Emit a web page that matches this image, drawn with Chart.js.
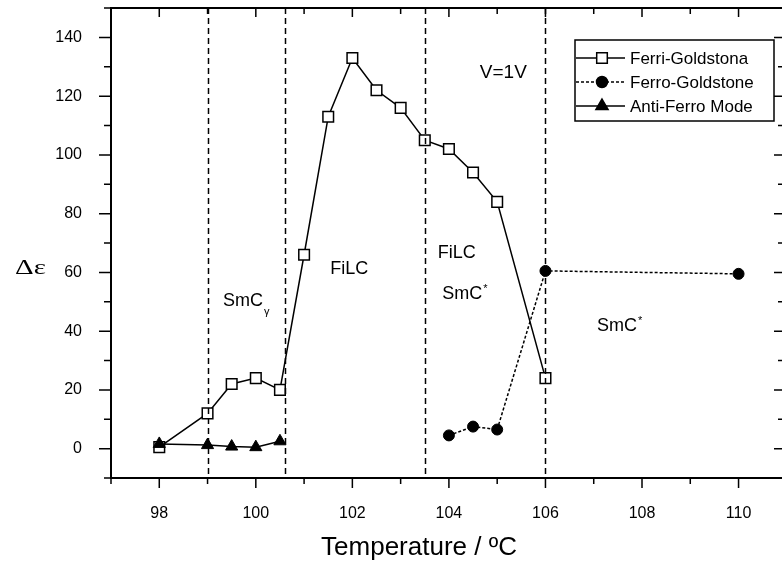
<!DOCTYPE html>
<html>
<head>
<meta charset="utf-8">
<script src="https://cdn.jsdelivr.net/npm/chart.js@4.4.0/dist/chart.umd.min.js"></script>
<style>
html,body{margin:0;padding:0;background:#fff;}
#wrap{width:782px;height:563px;}
</style>
</head>
<body>
<div id="wrap"><canvas id="c" width="782" height="563"></canvas></div>
<script>
// ---- data ----
const ferriT  = [98, 99, 99.5, 100, 100.5, 101, 101.5, 102, 102.5, 103, 103.5, 104, 104.5, 105, 106];
const ferriDe = [0.5, 12, 22, 24, 20, 66, 113, 133, 122, 116, 105, 102, 94, 84, 24];
const ferroT  = [104, 104.5, 105, 106, 110];
const ferroDe = [4.5, 7.5, 6.5, 60.5, 59.5];
const antiT   = [98, 99, 99.5, 100, 100.5];
const antiDe  = [1.6, 1.2, 0.7, 0.5, 2.5];
const seriesLabels = ['Ferri-Goldstona', 'Ferro-Goldstone', 'Anti-Ferro Mode'];
const phaseBoundaries = [99, 100.6, 103.5, 106];
const xTickLabels = [98, 100, 102, 104, 106, 108, 110];
const yTickLabels = [0, 20, 40, 60, 80, 100, 120, 140];
const annotations = [
  {x: 99.32, y: 48.6, text: 'SmC', sub: 'γ'},
  {x: 101.54, y: 59.5, text: 'FiLC'},
  {x: 103.77, y: 65, text: 'FiLC'},
  {x: 103.86, y: 51, text: 'SmC', sup: '*'},
  {x: 107.07, y: 40.1, text: 'SmC', sup: '*'},
  {x: 104.64, y: 126.2, text: 'V=1V', size: 19}
];

const pts = (xs, ys) => xs.map((x, i) => ({x: x, y: ys[i]}));
const SANS = '"Liberation Sans", Arial, sans-serif';

const framePlugin = {
  id: 'frame',
  afterDatasetsDraw(chart) {
    const ctx = chart.ctx;
    const xs = chart.scales.x, ys = chart.scales.y;
    const a = chart.chartArea;
    ctx.save();
    // dashed phase boundaries
    ctx.strokeStyle = '#000';
    ctx.lineWidth = 1.5;
    ctx.setLineDash([6, 4]);
    phaseBoundaries.forEach(v => {
      const px = Math.round(xs.getPixelForValue(v)) + 0.5;
      ctx.beginPath(); ctx.moveTo(px, a.top); ctx.lineTo(px, a.bottom); ctx.stroke();
    });
    ctx.setLineDash([]);
    // frame (right edge lies outside the picture)
    ctx.lineWidth = 2;
    ctx.beginPath();
    ctx.moveTo(a.right + 2, a.top); ctx.lineTo(a.left, a.top); ctx.lineTo(a.left, a.bottom); ctx.lineTo(a.right + 2, a.bottom);
    ctx.stroke();
    // ticks
    ctx.lineWidth = 1.5;
    ctx.beginPath();
    for (let v = Math.ceil(xs.min); v <= xs.max; v += 1) {
      const px = xs.getPixelForValue(v);
      const major = v % 2 === 0;
      ctx.moveTo(px, a.bottom); ctx.lineTo(px, a.bottom + (major ? 10 : 6));
      ctx.moveTo(px, a.top); ctx.lineTo(px, a.top + (major ? 9 : 6));
    }
    for (let v = ys.min; v <= ys.max; v += 10) {
      const py = ys.getPixelForValue(v);
      const major = v % 20 === 0;
      ctx.moveTo(a.left, py); ctx.lineTo(a.left - (major ? 12 : 7), py);
      ctx.moveTo(a.right, py); ctx.lineTo(a.right - (major ? 8 : 4), py);
    }
    ctx.stroke();

    // annotations
    ctx.fillStyle = '#000';
    ctx.textBaseline = 'alphabetic';
    annotations.forEach(an => {
      const px = xs.getPixelForValue(an.x), py = ys.getPixelForValue(an.y);
      ctx.font = (an.size || 18) + 'px ' + SANS;
      ctx.textAlign = 'left';
      ctx.fillText(an.text, px, py);
      const w = ctx.measureText(an.text).width;
      if (an.sub) { ctx.font = '11px ' + SANS; ctx.fillText(an.sub, px + w + 1, py + 9); }
      if (an.sup) { ctx.font = '11px ' + SANS; ctx.fillText(an.sup, px + w + 1, py - 7); }
    });

    // axis titles
    ctx.save();
    ctx.translate(15, 274);
    ctx.scale(1.45, 1);
    ctx.font = '20px "Liberation Serif", "Times New Roman", serif';
    ctx.textAlign = 'left';
    ctx.fillText('Δε', 0, 0);
    ctx.restore();
    ctx.font = '26px ' + SANS;
    ctx.textAlign = 'center';
    ctx.fillText('Temperature / ºC', 419, 555);

    // legend
    const lx = 575, ly = 40, lw = 199, lh = 81;
    ctx.fillStyle = '#fff';
    ctx.fillRect(lx, ly, lw, lh);
    ctx.lineWidth = 1.5;
    ctx.strokeStyle = '#000';
    ctx.strokeRect(lx, ly, lw, lh);
    chart.data.datasets.forEach((ds, i) => {
      const yy = ly + 18 + i * 24;
      ctx.lineWidth = ds.borderWidth;
      ctx.setLineDash(ds.borderDash || []);
      ctx.beginPath(); ctx.moveTo(lx + 1, yy); ctx.lineTo(lx + 50, yy); ctx.stroke();
      ctx.setLineDash([]);
      Chart.helpers.drawPoint(ctx, {pointStyle: ds.pointStyle, radius: ds.pointRadius, borderWidth: ds.pointBorderWidth, rotation: 0}, lx + 27, yy);
      ctx.fillStyle = '#000';
      ctx.font = '17px ' + SANS;
      ctx.textAlign = 'left';
      ctx.textBaseline = 'middle';
      ctx.fillText(ds.label, lx + 55, yy + 1);
      ctx.textBaseline = 'alphabetic';
    });
    ctx.restore();
  }
};

new Chart(document.getElementById('c'), {
  type: 'scatter',
  data: {
    datasets: [
      {label: seriesLabels[0], data: pts(ferriT, ferriDe), showLine: true,
       borderColor: '#000', borderWidth: 1.5, pointStyle: 'rect', pointRadius: 7.5,
       pointBorderWidth: 1.5, pointBackgroundColor: '#fff', pointBorderColor: '#000', order: 1},
      {label: seriesLabels[1], data: pts(ferroT, ferroDe), showLine: true,
       borderColor: '#000', borderWidth: 1.5, borderDash: [3, 2], pointStyle: 'circle', pointRadius: 5.5,
       pointBorderWidth: 1, pointBackgroundColor: '#000', pointBorderColor: '#000', order: 2},
      {label: seriesLabels[2], data: pts(antiT, antiDe), showLine: true,
       borderColor: '#000', borderWidth: 1.5, pointStyle: 'triangle', pointRadius: 7,
       pointBorderWidth: 1, pointBackgroundColor: '#000', pointBorderColor: '#000', order: 0}
    ]
  },
  options: {
    responsive: false,
    animation: false,
    layout: {autoPadding: false, padding: {top: 8, right: 0, left: 0, bottom: 0}},
    plugins: {legend: {display: false}, tooltip: {enabled: false}},
    scales: {
      x: {
        type: 'linear', min: 97, max: 110.9,
        grid: {display: false}, border: {display: false},
        afterFit: s => { s.height = 85; s.paddingLeft = 0; s.paddingRight = 0; },
        ticks: {
          stepSize: 1, autoSkip: false, maxRotation: 0, padding: 18, includeBounds: false,
          color: '#000', font: {family: SANS, size: 16},
          callback: v => xTickLabels.includes(v) ? String(v) : ''
        }
      },
      y: {
        type: 'linear', min: -10, max: 150,
        grid: {display: false}, border: {display: false},
        afterFit: s => { s.width = 111; s.paddingTop = 0; s.paddingBottom = 0; },
        ticks: {
          stepSize: 10, autoSkip: false, padding: 21,
          color: '#000', font: {family: SANS, size: 16},
          callback: v => yTickLabels.includes(v) ? String(v) : ''
        }
      }
    }
  },
  plugins: [framePlugin]
});
</script>
</body>
</html>
